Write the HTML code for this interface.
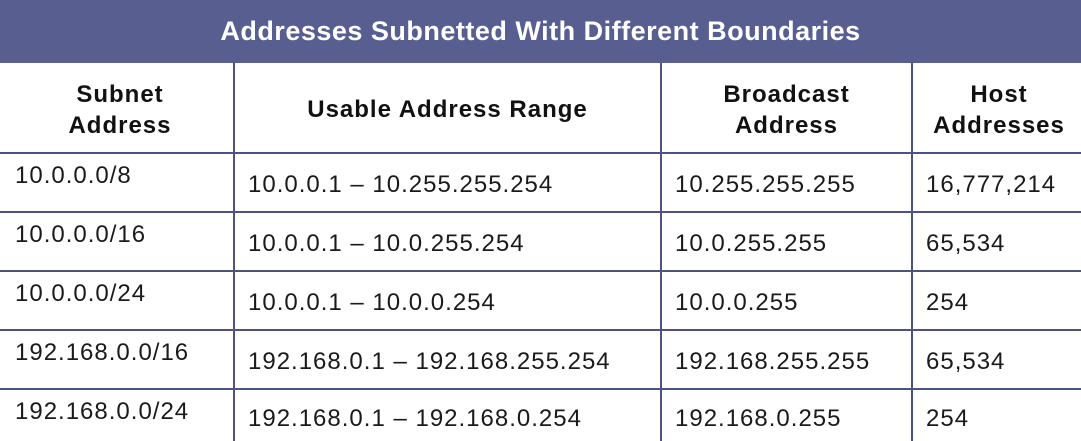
<!DOCTYPE html>
<html><head><style>
body{margin:0;width:1081px;height:441px;background:#fff;position:relative;overflow:hidden;font-family:"Liberation Sans",Arial,sans-serif;color:#1a1a1a}
.t{position:absolute;left:0;top:0;width:1081px;height:63px;background:#585e8f;color:#fff;font-weight:bold;font-size:27px;letter-spacing:0.5px;text-align:center;line-height:63px}
.h{position:absolute;height:2px;left:0;width:1081px;background:#4d5280}
.v{position:absolute;width:2px;top:63px;height:378px;background:#4d5280}
.c{position:absolute;font-size:24px;letter-spacing:1px;white-space:nowrap}
.hd{position:absolute;font-weight:bold;font-size:24px;letter-spacing:1px;text-align:center;line-height:31px;color:#111}
</style></head><body>
<div class="t">Addresses Subnetted With Different Boundaries</div>
<div class="h" style="top:152px"></div>
<div class="h" style="top:211px"></div>
<div class="h" style="top:270px"></div>
<div class="h" style="top:329px"></div>
<div class="h" style="top:388px"></div>
<div class="v" style="left:233px"></div>
<div class="v" style="left:660px"></div>
<div class="v" style="left:911px"></div>
<div class="hd" style="left:0;width:240px;top:79px">Subnet<br>Address</div>
<div class="hd" style="left:234px;width:427px;top:94px">Usable Address Range</div>
<div class="hd" style="left:661px;width:251px;top:79px">Broadcast<br>Address</div>
<div class="hd" style="left:912px;width:174px;top:79px">Host<br>Addresses</div>

<div class="c" style="left:15px;top:162px">10.0.0.0/8</div>
<div class="c" style="left:248px;top:171px">10.0.0.1 – 10.255.255.254</div>
<div class="c" style="left:675px;top:171px">10.255.255.255</div>
<div class="c" style="left:926px;top:171px">16,777,214</div>

<div class="c" style="left:15px;top:221px">10.0.0.0/16</div>
<div class="c" style="left:248px;top:230px">10.0.0.1 – 10.0.255.254</div>
<div class="c" style="left:675px;top:230px">10.0.255.255</div>
<div class="c" style="left:926px;top:230px">65,534</div>

<div class="c" style="left:15px;top:280px">10.0.0.0/24</div>
<div class="c" style="left:248px;top:289px">10.0.0.1 – 10.0.0.254</div>
<div class="c" style="left:675px;top:289px">10.0.0.255</div>
<div class="c" style="left:926px;top:289px">254</div>

<div class="c" style="left:15px;top:339px">192.168.0.0/16</div>
<div class="c" style="left:248px;top:348px">192.168.0.1 – 192.168.255.254</div>
<div class="c" style="left:675px;top:348px">192.168.255.255</div>
<div class="c" style="left:926px;top:348px">65,534</div>

<div class="c" style="left:15px;top:398px">192.168.0.0/24</div>
<div class="c" style="left:248px;top:405px">192.168.0.1 – 192.168.0.254</div>
<div class="c" style="left:675px;top:405px">192.168.0.255</div>
<div class="c" style="left:926px;top:405px">254</div>
</body></html>
